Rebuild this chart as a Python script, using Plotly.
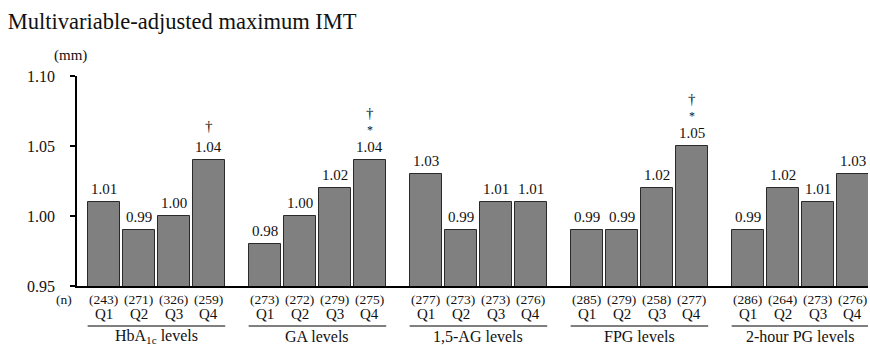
import plotly.graph_objects as go

# Maximum IMT (mm) by quartile of each glycemic marker
groups = ["HbA<sub>1c</sub> levels", "GA levels", "1,5-AG levels", "FPG levels", "2-hour PG levels"]
quartiles = ["Q1", "Q2", "Q3", "Q4"]
imt_values = [
    [1.01, 0.99, 1.00, 1.04],
    [0.98, 1.00, 1.02, 1.04],
    [1.03, 0.99, 1.01, 1.01],
    [0.99, 0.99, 1.02, 1.05],
    [0.99, 1.02, 1.01, 1.03],
]
n_counts = [
    [243, 271, 326, 259],
    [273, 272, 279, 275],
    [277, 273, 273, 276],
    [285, 279, 258, 277],
    [286, 264, 273, 276],
]
# significance marks above bars: (group index, quartile index, marks bottom-to-top)
sig_marks = [(0, 3, ["†"]), (1, 3, ["*", "†"]), (3, 3, ["*", "†"])]
y_ticks = [0.95, 1.00, 1.05, 1.10]

GROUP_STEP = 4.6
BAR_W = 0.93
FONT = "Liberation Serif"
INK = "#111111"

def f(size):
    return dict(family=FONT, size=size, color=INK)

def xpos(g, q):
    return g * GROUP_STEP + q

xs, ys = [], []
for g, vals in enumerate(imt_values):
    for q, v in enumerate(vals):
        xs.append(xpos(g, q))
        ys.append(v)

fig = go.Figure(go.Bar(
    x=xs, y=ys, width=BAR_W,
    marker=dict(color="#808080", line=dict(color="#2a2a2a", width=1)),
    hoverinfo="skip",
))

ann = []
shapes = []
for g, vals in enumerate(imt_values):
    for q, v in enumerate(vals):
        x = xpos(g, q)
        ann.append(dict(x=x, y=v, xref="x", yref="y", text=f"{v:.2f}", showarrow=False,
                        yanchor="middle", yshift=13, font=f(15)))
        ann.append(dict(x=x, y=0, xref="x", yref="paper", text=f"({n_counts[g][q]})", showarrow=False,
                        yanchor="middle", yshift=-13, borderpad=0, font=f(13.5)))
        ann.append(dict(x=x, y=0, xref="x", yref="paper", text=quartiles[q], showarrow=False,
                        yanchor="middle", yshift=-28, borderpad=0, font=f(15)))
    left = xpos(g, 0) - BAR_W / 2
    right = xpos(g, 3) + BAR_W / 2
    ann.append(dict(x=(left + right) / 2, y=0, xref="x", yref="paper", text=groups[g], showarrow=False,
                    yanchor="middle", yshift=-50, borderpad=0, font=f(16)))
    shapes.append(dict(type="line", xref="x", yref="paper", x0=left, x1=right,
                       y0=-40 / 210, y1=-40 / 210, line=dict(color="black", width=1)))

for g, q, marks in sig_marks:
    v = imt_values[g][q]
    shifts = [30, 47] if len(marks) == 2 else [34]
    for m, s in zip(marks, shifts):
        ann.append(dict(x=xpos(g, q), y=v, xref="x", yref="y", text=m, showarrow=False,
                        yanchor="middle", yshift=s, font=f(15 if m == "†" else 12)))

ann.append(dict(x=0, y=0, xref="paper", yref="paper", text="(n)", showarrow=False,
                xanchor="right", yanchor="middle", xshift=-3, yshift=-13, font=f(13.5)))
ann.append(dict(x=0, y=1, xref="paper", yref="paper", text="(mm)", showarrow=False,
                xanchor="center", yanchor="middle", xshift=-7, yshift=21, font=f(15)))

fig.update_layout(
    width=870, height=345,
    margin=dict(l=77, r=2, t=76, b=59),
    paper_bgcolor="white", plot_bgcolor="white",
    font=f(15),
    showlegend=False,
    bargap=0,
    title=dict(text="Multivariable-adjusted maximum IMT", x=0.009, xanchor="left",
               y=0.94, yanchor="middle", font=f(22.5)),
    xaxis=dict(range=[-0.77, xpos(4, 3) + 0.43], showgrid=False, zeroline=False,
               showticklabels=False, ticks="", showline=True, linecolor="black", linewidth=1.5,
               fixedrange=True),
    yaxis=dict(range=[0.95, 1.10], tickvals=y_ticks, ticktext=[f"{t:.2f}" for t in y_ticks],
               showgrid=False, zeroline=False, showline=True, linecolor="black", linewidth=1.5,
               ticks="outside", ticklen=5, tickwidth=1.5, tickcolor="black",
               ticklabelstandoff=12, tickfont=f(16), fixedrange=True),
    annotations=ann,
    shapes=shapes,
)

fig.write_html("out.html")
